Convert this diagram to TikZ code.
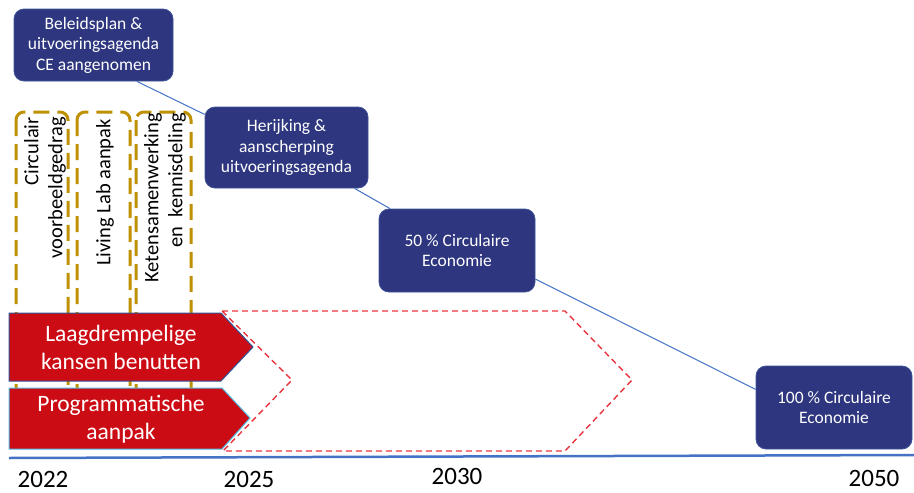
\documentclass[tikz,border=0pt]{standalone}
\usepackage{fontspec}
\setmainfont{Carlito}
\usepackage{tikz}

\definecolor{donkerblauw}{RGB}{45,54,126}
\definecolor{randblauw}{RGB}{62,82,152}
\definecolor{lijnblauw}{RGB}{68,114,196}
\definecolor{goud}{RGB}{191,144,0}
\definecolor{rood}{RGB}{204,12,20}
\definecolor{stippelrood}{RGB}{232,52,62}
\definecolor{pijlrand}{RGB}{47,85,151}
\definecolor{pijlrandlicht}{RGB}{80,190,230}

\begin{document}
\begin{tikzpicture}[
    x=1pt, y=-1pt,
    mijlpaal/.style={
      rectangle,
      rounded corners=10pt,
      fill=donkerblauw,
      draw=randblauw,
      line width=.8pt,
      text=white,
      align=center,
      inner sep=0pt,
      font=\fontsize{17.5}{20.5}\selectfont},
    spoor/.style={
      draw=goud,
      line width=3pt,
      dash pattern=on 16pt off 8pt,
      rounded corners=8pt},
    spoortekst/.style={
      rotate=90,
      anchor=east,
      align=right,
      inner sep=0pt,
      font=\fontsize{20.5}{24}\selectfont},
    pijl/.style={fill=rood, line width=1pt},
    pijltekst/.style={
      text=white,
      align=center,
      inner sep=0pt,
      font=\fontsize{23.5}{28}\selectfont},
    jaartal/.style={anchor=base, inner sep=0pt, font=\fontsize{25}{30}\selectfont},
    lijn/.style={draw=lijnblauw, line width=1pt}
    ]

  \useasboundingbox (0,0) rectangle (914,493);

  % sporen
  \draw[spoor] (16,112) rectangle (68,446);
  \draw[spoor] (77,112) rectangle (130,446);
  \draw[spoor] (136,112) rectangle (191,446);

  \node at (45,117) (circulair) [spoortekst] {Circulair\\voorbeeldgedrag};
  \node at (105,119) (livinglab) [spoortekst] {Living Lab aanpak};
  \node at (165,113) (keten) [spoortekst] {Ketensamenwerking\\en~ kennisdeling};

  % vervolg
  \draw[draw=stippelrood, line width=1.4pt, dash pattern=on 6pt off 4pt]
    (222,311) -- (565,311) -- (632,380) -- (565,451) -- (223,451) -- (292,380) -- cycle;

  % pijlen
  \draw[pijl, draw=pijlrand] (9,313) -- (221,313) -- (253,347) -- (221,381) -- (9,381) -- cycle;
  \draw[pijl, draw=pijlrandlicht] (9,388) -- (222,388) -- (250,418) -- (222,449) -- (9,449) -- cycle;

  \node at (121,347) (laagdrempelig) [pijltekst] {Laagdrempelige\\kansen benutten};
  \node at (121,419) (programma) [pijltekst] {Programmatische\\aanpak};

  % tijdas
  \draw[lijnblauw, line width=2.5pt] (9,458) -- (914,455);

  \node at (43,487) (j2022) [jaartal] {2022};
  \node at (249,487) (j2025) [jaartal] {2025};
  \node at (457,484) (j2030) [jaartal] {2030};
  \node at (874,486) (j2050) [jaartal] {2050};

  % mijlpalen
  \node at (93.5,45) (beleid) [mijlpaal, minimum width=159pt, minimum height=72pt] {Beleidsplan \&\\uitvoeringsagenda\\CE aangenomen};
  \node at (286.5,147.5) (herijking) [mijlpaal, minimum width=163pt, minimum height=81pt] {Herijking \&\\aanscherping\\uitvoeringsagenda};
  \node at (457,250.5) (vijftig) [mijlpaal, minimum width=156pt, minimum height=83pt] {50 \% Circulaire\\Economie};
  \node at (834,407.5) (honderd) [mijlpaal, minimum width=156pt, minimum height=83pt] {100 \% Circulaire\\Economie};

  \path[lijn]
        (beleid.-40) edge (herijking.158)
        (herijking.-31) edge (vijftig.148)
        (vijftig.-20) edge (honderd.167)
   ;

\end{tikzpicture}
\end{document}
